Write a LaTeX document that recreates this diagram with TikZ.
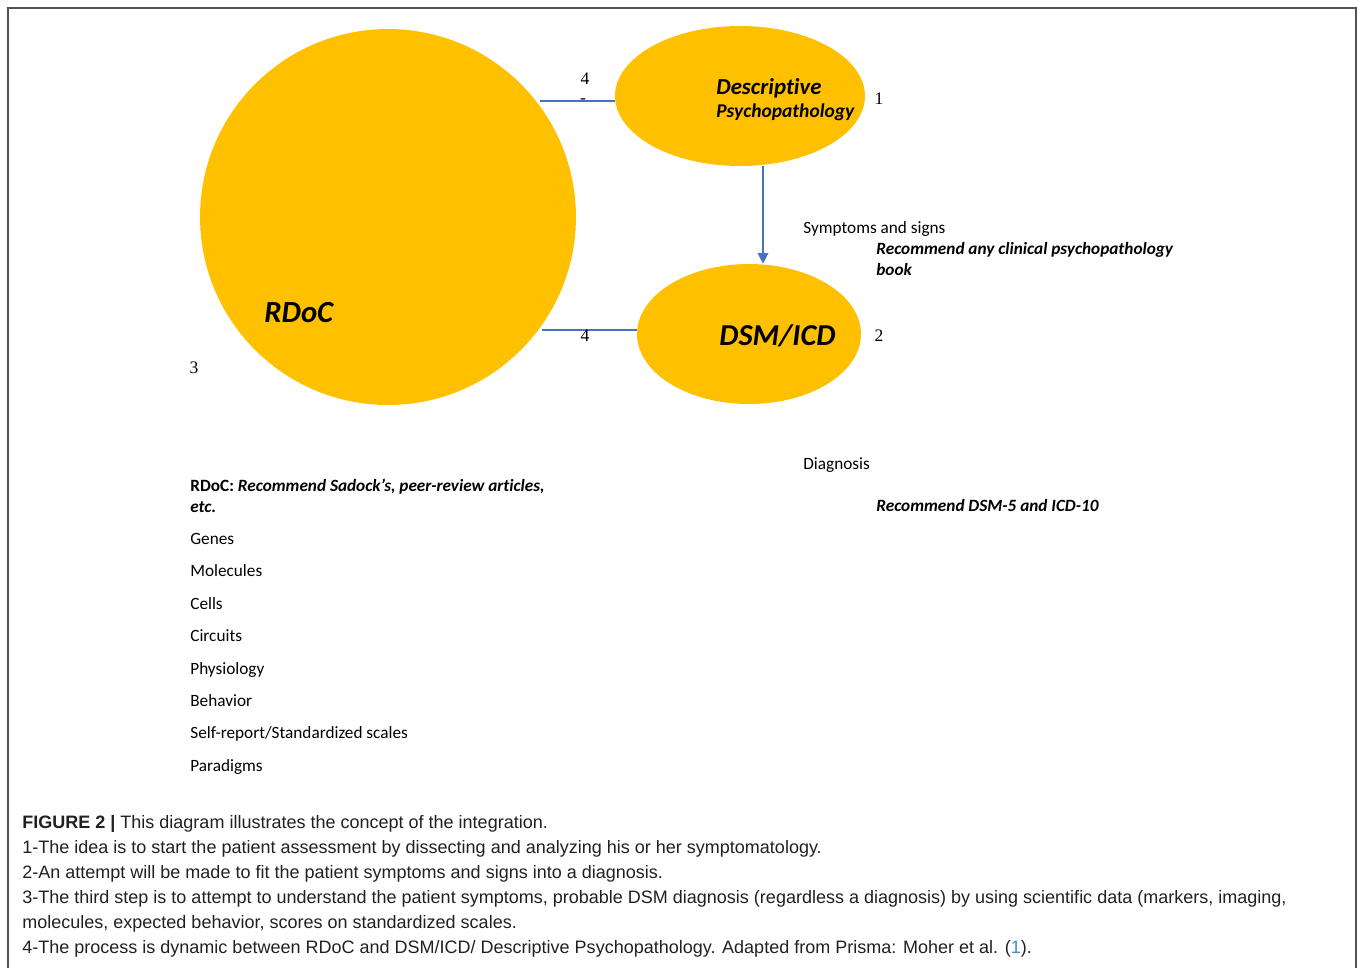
\documentclass[tikz,border=0pt]{standalone}
\usepackage{fontspec}
\setmainfont{Carlito}[Ligatures=CommonOff]
\newfontfamily\capfont{Liberation Sans}
\newfontfamily\numfont{Liberation Serif}
\usetikzlibrary{shapes.geometric,arrows.meta}

\definecolor{blobyellow}{HTML}{FFC000}
\definecolor{linkblue}{HTML}{4472C4}
\definecolor{captext}{HTML}{231F20}
\definecolor{citeblue}{HTML}{3D8FCB}

\tikzset{
	blob/.style={fill=blobyellow, draw=none, inner sep=0pt},
	txt/.style={anchor=base west, inner sep=0pt, font=\fontsize{9.8}{11}\selectfont},
	txtbi/.style={txt, font=\fontsize{9.8}{11}\selectfont\bfseries\itshape},
	num/.style={inner sep=0pt, font=\numfont\fontsize{10}{12}\selectfont},
	captionline/.style={anchor=base west, inner sep=0pt, text=captext, font=\capfont\fontsize{10.25}{12}\selectfont},
	link/.style={draw=linkblue, line width=1.2pt},
	flow/.style={draw=linkblue, line width=0.7pt, -{Triangle[length=6pt,width=6pt]}}
}

\begin{document}
\begin{tikzpicture}[x=0.02cm, y=-0.02cm]
	\useasboundingbox (0,0) rectangle (1358,968);
	%frame
	\draw[gray!65!black, line width=1pt] (8,968)--(8,8)--(1356,8)--(1356,968);
	
	%blobs
	\node[blob, circle, minimum size=7.52cm] (rdoc) at (388,217) {};
	\node[blob, ellipse, minimum width=5cm, minimum height=2.8cm] (desc) at (740,96) {};
	\node[blob, ellipse, minimum width=4.48cm, minimum height=2.8cm] (dsm) at (749,334) {};
	\coordinate (arrx) at (763,0);
	
	%connectors
	\draw[link] (rdoc.38.5) ++(4,0) -- (desc.west |- rdoc.38.5);
	\draw[link] (rdoc.-37) ++(4,0) -- (dsm.west |- rdoc.-37);
	\draw[flow] (desc.south -| arrx) -- (dsm.north -| arrx);
	
	%blob labels
	\node[anchor=base west, inner sep=0pt, font=\fontsize{13}{15}\selectfont\bfseries\itshape] (desc1) at (716,94) {Descriptive};
	\node[anchor=base west, inner sep=0pt, font=\fontsize{11.1}{13}\selectfont\bfseries\itshape] (desc2) at (716,117) {Psychopathology};
	\node[anchor=base west, inner sep=0pt, font=\fontsize{17.5}{20}\selectfont\bfseries\itshape] (rdoclab) at (264,322) {RDoC};
	\node[anchor=base west, inner sep=0pt, font=\fontsize{17.3}{20}\selectfont\bfseries\itshape] (dsmlab) at (719,345) {DSM/ICD};
	
	%numbers
	\node[num] (n4a) at (585,79) {4};
	\node[num] (dash) at (583,101) {-};
	\node[num] (n4b) at (585,336) {4};
	\node[num] (n1) at (879,99) {1};
	\node[num] (n2) at (879,336) {2};
	\node[num] (n3) at (194,368) {3};
	
	%notes right
	\node[txt] (symp) at (803,233) {Symptoms and signs};
	\node[txtbi] (symprec1) at (876,254) {Recommend any clinical psychopathology};
	\node[txtbi] (symprec2) at (876,275) {book};
	\node[txt] (diag) at (803,469) {Diagnosis};
	\node[txtbi] (diagrec) at (876,511) {Recommend DSM-5 and ICD-10};
	
	%notes left
	\node[txt] (rdocrec1) at (190,491) {\textbf{RDoC:} \textbf{\textit{Recommend Sadock’s, peer-review articles,}}};
	\node[txtbi] (rdocrec2) at (190,512) {etc.};
	\node[txt] (l1) at (190,544) {Genes};
	\node[txt] (l2) at (190,576) {Molecules};
	\node[txt] (l3) at (190,609) {Cells};
	\node[txt] (l4) at (190,641) {Circuits};
	\node[txt] (l5) at (190,674) {Physiology};
	\node[txt] (l6) at (190,706) {Behavior};
	\node[txt] (l7) at (190,738) {Self-report/Standardized scales};
	\node[txt] (l8) at (190,771) {Paradigms};
	
	%caption
	\node[captionline] (c0) at (22,828) {\textbf{FIGURE 2 |} This diagram illustrates the concept of the integration.};
	\node[captionline] (c1) at (22,853) {1-The idea is to start the patient assessment by dissecting and analyzing his or her symptomatology.};
	\node[captionline] (c2) at (22,878) {2-An attempt will be made to fit the patient symptoms and signs into a diagnosis.};
	\node[captionline] (c3) at (22,903) {3-The third step is to attempt to understand the patient symptoms, probable DSM diagnosis (regardless a diagnosis) by using scientific data (markers, imaging,};
	\node[captionline] (c4) at (22,928) {molecules, expected behavior, scores on standardized scales.};
	\node[captionline] (c5) at (22,953) {4-The process is dynamic between RDoC and DSM/ICD/ Descriptive Psychopathology. Adapted from Prisma: Moher et al. ({\color{citeblue}1}).};
\end{tikzpicture}
\end{document}
